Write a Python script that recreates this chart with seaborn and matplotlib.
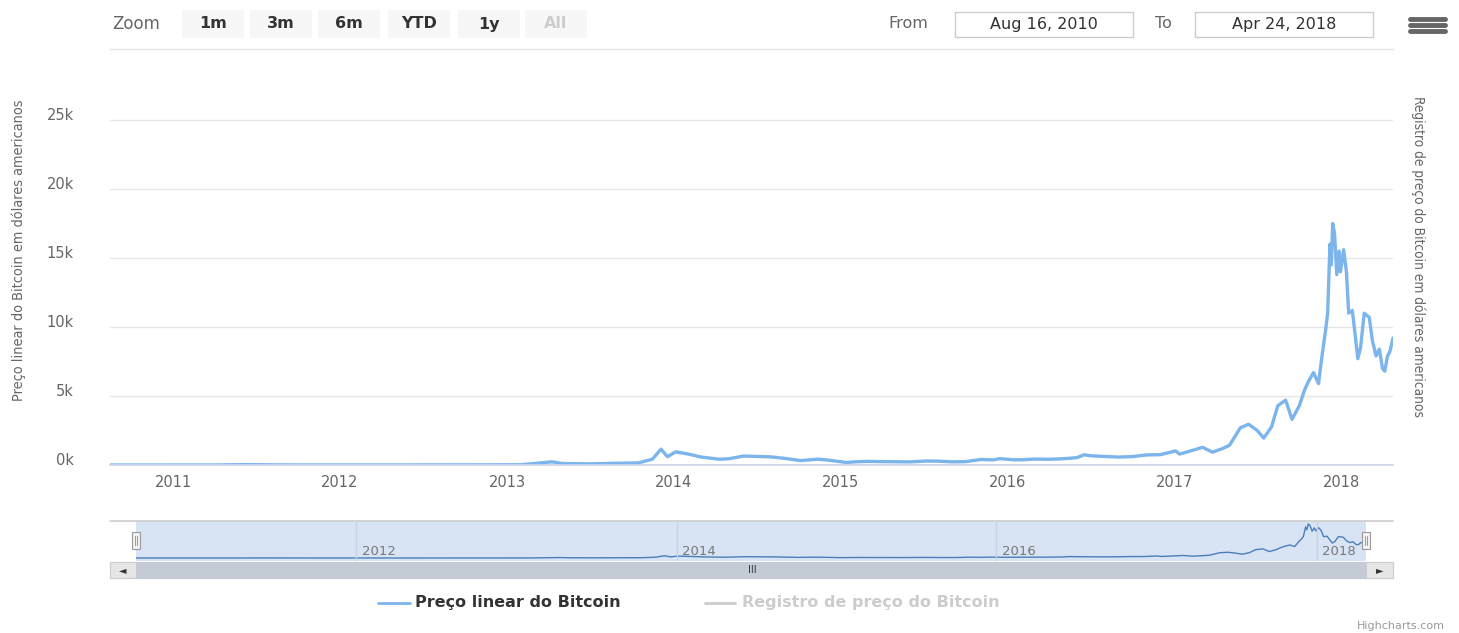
import pandas as pd
import seaborn as sns
import matplotlib.pyplot as plt
import matplotlib.dates as mdates
from matplotlib import font_manager as fm
from matplotlib.patches import Rectangle
from matplotlib.lines import Line2D
from matplotlib.transforms import ScaledTranslation

# Bitcoin price (USD)
dates = [
    "2010-08-16", "2010-10-01", "2010-12-01", "2011-02-01", "2011-04-01", "2011-06-08",
    "2011-08-01", "2011-10-01", "2011-12-01", "2012-02-01", "2012-04-01", "2012-06-01",
    "2012-08-15", "2012-10-01", "2012-12-01", "2013-02-01", "2013-04-09", "2013-05-01",
    "2013-07-01", "2013-09-01", "2013-10-15", "2013-11-15", "2013-12-04", "2013-12-18",
    "2014-01-05", "2014-02-01", "2014-03-01", "2014-04-10", "2014-05-01", "2014-06-03",
    "2014-07-01", "2014-08-01", "2014-09-01", "2014-10-05", "2014-11-12", "2014-12-01",
    "2015-01-14", "2015-02-01", "2015-03-01", "2015-04-01", "2015-05-01", "2015-06-01",
    "2015-07-10", "2015-08-01", "2015-09-01", "2015-10-01", "2015-11-04", "2015-12-01",
    "2015-12-15", "2016-01-15", "2016-02-01", "2016-03-01", "2016-04-01", "2016-05-01",
    "2016-06-01", "2016-06-17", "2016-07-01", "2016-08-01", "2016-09-01", "2016-10-01",
    "2016-11-01", "2016-12-01", "2017-01-03", "2017-01-12", "2017-02-01", "2017-03-03",
    "2017-03-25", "2017-04-15", "2017-05-01", "2017-05-25", "2017-06-12", "2017-07-01",
    "2017-07-15", "2017-08-01", "2017-08-15", "2017-09-01", "2017-09-15", "2017-10-01",
    "2017-10-12", "2017-10-20", "2017-11-01", "2017-11-12", "2017-11-20", "2017-11-28",
    "2017-12-02", "2017-12-07", "2017-12-10", "2017-12-13", "2017-12-17", "2017-12-22",
    "2017-12-27", "2017-12-30", "2018-01-06", "2018-01-12", "2018-01-17", "2018-01-25",
    "2018-02-02", "2018-02-06", "2018-02-12", "2018-02-20", "2018-03-03", "2018-03-10",
    "2018-03-18", "2018-03-25", "2018-04-01", "2018-04-06", "2018-04-12", "2018-04-17",
    "2018-04-24",
]
prices = [
    0.07, 0.06, 0.2, 0.9, 0.8, 30,
    13, 5, 3, 5.5, 5, 5.3,
    12, 12, 13, 20, 230, 110,
    80, 130, 150, 420, 1150, 600,
    950, 800, 580, 420, 450, 650,
    620, 590, 480, 320, 420, 370,
    180, 230, 260, 245, 235, 225,
    290, 280, 230, 240, 400, 370,
    460, 380, 375, 430, 415, 450,
    530, 740, 670, 620, 575, 610,
    730, 750, 1020, 790, 980, 1280,
    930, 1180, 1420, 2700, 2950, 2500,
    1950, 2750, 4300, 4700, 3300, 4300,
    5400, 6000, 6700, 5900, 8000, 9900,
    11000, 16000, 14500, 17500, 16800, 13800,
    15500, 14000, 15600, 14000, 11000, 11200,
    8900, 7700, 8500, 11000, 10700, 9000,
    7900, 8400, 7000, 6800, 7900, 8200,
    9200,
]

y_ticks = [0, 5000, 10000, 15000, 20000, 25000]
y_tick_labels = ["0k", "5k", "10k", "15k", "20k", "25k"]
nav_years = ["2012", "2014", "2016", "2018"]
zoom_buttons = ["1m", "3m", "6m", "YTD", "1y", "All"]
date_from = "Aug 16, 2010"
date_to = "Apr 24, 2018"
series_names = ["Preço linear do Bitcoin", "Registro de preço do Bitcoin"]
left_title = "Preço linear do Bitcoin em dólares americanos"
right_title = "Registro de preço do Bitcoin em dólares americanos"

df = pd.DataFrame({"date": pd.to_datetime(dates), "price": prices})
start, end = df["date"].min(), df["date"].max()

sns.set_theme(style="white")
plt.rcParams["font.family"] = ["DejaVu Sans"]

# a narrow face for the axis titles, if one is installed
title_font = fm.FontProperties(family="DejaVu Sans")
for fam, st, key in [("Liberation Sans Narrow", "normal", "Narrow"),
                     ("DejaVu Sans", "condensed", "Condensed")]:
    fp = fm.FontProperties(family=fam, stretch=st)
    try:
        path = fm.findfont(fp, fallback_to_default=False)
    except ValueError:
        continue
    if key in path:
        title_font = fp
        break

W, H = 1459, 633
fig = plt.figure(figsize=(W / 100, H / 100), dpi=100)


def fx(px):
    return px / W


def fy(py):
    return 1 - py / H


def rect(x0, y0, x1, y1, **kw):
    fig.add_artist(Rectangle((fx(x0), fy(y1)), fx(x1 - x0), (y1 - y0) / H,
                             transform=fig.transFigure, **kw))


def hline(x0, x1, y, **kw):
    fig.add_artist(Line2D([fx(x0), fx(x1)], [fy(y), fy(y)], transform=fig.transFigure, **kw))


# main chart
ax = fig.add_axes([fx(110), fy(465), fx(1393 - 110), (465 - 100) / H])
sns.lineplot(data=df, x="date", y="price", ax=ax, color="#7cb5ec", lw=2.4)
ax.set_xlim(start, end)
ax.set_ylim(0, 25000 * 365 / 345)
ax.set_yticks(y_ticks)
ax.set_yticklabels(y_tick_labels)
ax.yaxis.grid(True, color="#e6e6e6", lw=1)
ax.set_xlabel("")
ax.set_ylabel("")
for s in ["top", "right", "left"]:
    ax.spines[s].set_visible(False)
ax.spines["bottom"].set_color("#ccd6eb")
ax.xaxis.set_major_locator(mdates.YearLocator())
ax.xaxis.set_major_formatter(mdates.DateFormatter("%Y"))
ax.tick_params(axis="x", length=7, color="#ccd6eb", direction="out", pad=0,
               labelsize=10.5, labelcolor="#666666")
ax.tick_params(axis="y", length=0, pad=26, labelsize=10.5, labelcolor="#666666")
for lab in ax.get_yticklabels():
    lab.set_transform(lab.get_transform() + ScaledTranslation(0, 4 / 72, fig.dpi_scale_trans))

t_left = fig.text(fx(19), fy(250), left_title, rotation=90, ha="center", va="center",
                  fontsize=12, color="#666666", fontproperties=title_font)
t_right = fig.text(fx(1418), fy(257), right_title, rotation=270, ha="center", va="center",
                   fontsize=12, color="#666666", fontproperties=title_font)

# navigator
hline(110, 1393, 521, color="#cccccc", lw=1.2)
nav = fig.add_axes([fx(136), fy(561), fx(1366 - 136), 40 / H])
nav.set_facecolor("#d8e4f4")
sns.lineplot(data=df, x="date", y="price", ax=nav, color="#4a7ebb", lw=1)
nav.set_xlim(start, end)
nav.set_ylim(-1550, 19050)
nav.set_xticks([])
nav.set_yticks([])
nav.set_xlabel("")
nav.set_ylabel("")
for s in nav.spines.values():
    s.set_visible(False)
for yr in nav_years:
    d = pd.Timestamp(yr + "-01-01")
    nav.axvline(d, color="#c6d3e6", lw=1)
    nav.annotate(yr, (d, 0), xycoords=("data", "axes fraction"), xytext=(4, 4),
                 textcoords="offset points", fontsize=9.5, color="#777777")

# navigator handles
for hx in [136, 1366]:
    rect(hx - 4, 532, hx + 4, 549, facecolor="#f2f2f2", edgecolor="#999999", lw=0.8)
    for dx in [-1, 1]:
        fig.add_artist(Line2D([fx(hx + dx), fx(hx + dx)], [fy(536), fy(545)],
                              color="#999999", lw=0.7, transform=fig.transFigure))

# scrollbar
rect(110, 562, 1393, 578, facecolor="#f2f2f2", edgecolor="#e6e6e6", lw=0.8)
rect(136, 562, 1366, 578, facecolor="#c3cbd4", edgecolor="#c3cbd4", lw=0.8)
rect(110, 562, 136, 578, facecolor="#e6e6e6", edgecolor="#cccccc", lw=0.8)
rect(1366, 562, 1393, 578, facecolor="#e6e6e6", edgecolor="#cccccc", lw=0.8)
fig.text(fx(123), fy(570), "◄", ha="center", va="center", fontsize=7, color="#333333")
fig.text(fx(1380), fy(570), "►", ha="center", va="center", fontsize=7, color="#333333")
fig.text(fx(752), fy(570), "III", ha="center", va="center", fontsize=7, color="#333333")

# range selector
fig.text(fx(112), fy(24), "Zoom", ha="left", va="center", fontsize=12, color="#666666")
bx = [182, 250, 318, 388, 458, 525]
for x0, lab in zip(bx, zoom_buttons):
    rect(x0, 10, x0 + 62, 38, facecolor="#f7f7f7", edgecolor="none")
    fig.text(fx(x0 + 31), fy(24), lab, ha="center", va="center", fontsize=11.5,
             fontweight="bold", color="#cccccc" if lab == "All" else "#333333")
fig.text(fx(888), fy(24), "From", ha="left", va="center", fontsize=11.5, color="#666666")
rect(955, 12, 1133, 37, facecolor="white", edgecolor="#cccccc", lw=1)
fig.text(fx(1044), fy(24), date_from, ha="center", va="center", fontsize=11.5, color="#333333")
fig.text(fx(1155), fy(24), "To", ha="left", va="center", fontsize=11.5, color="#666666")
rect(1195, 12, 1373, 37, facecolor="white", edgecolor="#cccccc", lw=1)
fig.text(fx(1284), fy(24), date_to, ha="center", va="center", fontsize=11.5, color="#333333")
for yy in [19, 25, 31]:
    hline(1410, 1445, yy, color="#666666", lw=3.5)
hline(110, 1393, 49, color="#e6e6e6", lw=1)

# legend
hline(378, 410, 603, color="#7cb5ec", lw=2)
fig.text(fx(415), fy(603), series_names[0], ha="left", va="center", fontsize=11.5,
         fontweight="bold", color="#333333")
hline(705, 735, 603, color="#cccccc", lw=2)
fig.text(fx(742), fy(603), series_names[1], ha="left", va="center", fontsize=11.5,
         fontweight="bold", color="#cccccc")

fig.text(fx(1445), fy(626), "Highcharts.com", ha="right", va="center", fontsize=8,
         color="#999999")

# shrink the vertical titles to the length they have in the reference
fig.canvas.draw()
rend = fig.canvas.get_renderer()
for t, target in [(t_left, 302), (t_right, 322)]:
    h = t.get_window_extent(rend).height
    t.set_fontsize(t.get_fontsize() * target / h)

fig.savefig("out.png", dpi=100, facecolor="white")
